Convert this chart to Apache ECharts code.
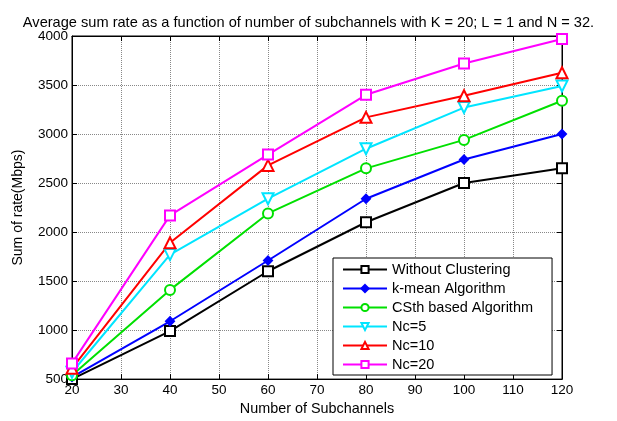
<!DOCTYPE html>
<html>
<head>
<meta charset="utf-8">
<script src="https://cdn.jsdelivr.net/npm/echarts@6/dist/echarts.min.js"></script>
<style>
  html, body { margin: 0; padding: 0; background: #fff; }
  #main { width: 617px; height: 421px; }
</style>
</head>
<body>
<div id="main"></div>
<script>
const subchannels = [20, 40, 60, 80, 100, 120];
const withoutClustering = [500, 990, 1600, 2100, 2500, 2650];
const kMean = [520, 1090, 1710, 2340, 2740, 3000];
const csth = [540, 1410, 2190, 2650, 2940, 3340];
const nc5 = [570, 1770, 2340, 2850, 3270, 3490];
const nc10 = [610, 1890, 2680, 3170, 3390, 3625];
const nc20 = [660, 2170, 2790, 3400, 3720, 3970];

const seriesDefs = [
  { name: 'Without Clustering', data: withoutClustering, color: '#000000', symbol: 'rect', size: 10, hollow: true },
  { name: 'k-mean Algorithm', data: kMean, color: '#0000ff', symbol: 'diamond', size: 8, hollow: false },
  { name: 'CSth based Algorithm', data: csth, color: '#00e000', symbol: 'circle', size: 10, hollow: true },
  { name: 'Nc=5', data: nc5, color: '#00e5ff', symbol: 'triangle', size: 11, hollow: true, rotate: 180 },
  { name: 'Nc=10', data: nc10, color: '#ff0000', symbol: 'triangle', size: 11, hollow: true },
  { name: 'Nc=20', data: nc20, color: '#ff00ff', symbol: 'rect', size: 10, hollow: true }
];

const font = 'Liberation Sans, Arial, sans-serif';
const chart = echarts.init(document.getElementById('main'), null, { renderer: 'canvas' });

const series = seriesDefs.map(s => ({
  name: s.name,
  type: 'line',
  data: s.data.map((v, i) => [subchannels[i], v]),
  symbol: s.symbol,
  symbolSize: s.size,
  symbolRotate: s.rotate || 0,
  showAllSymbol: true,
  lineStyle: { color: s.color, width: 2 },
  itemStyle: {
    color: s.hollow ? '#ffffff' : s.color,
    borderColor: s.color,
    borderWidth: 2
  },
  emphasis: { disabled: true },
  animation: false
}));

chart.setOption({
  animation: false,
  title: {
    text: 'Average sum rate as a function of number of subchannels with K = 20; L = 1 and N = 32.',
    left: 'center',
    top: 10,
    textStyle: { fontFamily: font, fontSize: 14.6, fontWeight: 'normal', color: '#000' }
  },
  grid: {
    left: 72, right: 55, top: 36, bottom: 37,
    show: true, borderColor: '#000', borderWidth: 1
  },
  legend: {
    orient: 'vertical',
    left: 333, top: 258,
    backgroundColor: '#fff',
    borderColor: '#000',
    borderWidth: 1,
    padding: [4, 19, 3, 9],
    itemWidth: 44,
    itemHeight: 9,
    itemGap: 4,
    textStyle: { fontFamily: font, fontSize: 14.5, color: '#000', lineHeight: 13 },
    data: seriesDefs.map(s => s.name)
  },
  xAxis: [{
    type: 'value',
    min: 20, max: 120, interval: 10,
    name: 'Number of Subchannels',
    nameLocation: 'middle',
    nameGap: 21,
    nameTextStyle: { fontFamily: font, fontSize: 14.4, color: '#000' },
    axisLine: { lineStyle: { color: '#000' } },
    axisTick: { inside: true, length: 5, lineStyle: { color: '#000' } },
    axisLabel: { fontFamily: font, fontSize: 13.5, color: '#000', margin: 4, formatter: v => String(v) },
    splitLine: { show: true, lineStyle: { color: '#888', type: 'dotted', width: 1 } }
  }, {
    type: 'value', position: 'top',
    min: 20, max: 120, interval: 10,
    axisLine: { show: true, lineStyle: { color: '#000' } },
    axisTick: { inside: true, length: 5, lineStyle: { color: '#000' } },
    axisLabel: { show: false },
    splitLine: { show: false }
  }],
  yAxis: [{
    type: 'value',
    min: 500, max: 4000, interval: 500,
    name: 'Sum of rate(Mbps)',
    nameLocation: 'middle',
    nameGap: 47,
    nameTextStyle: { fontFamily: font, fontSize: 14, color: '#000' },
    axisLine: { show: true, lineStyle: { color: '#000' } },
    axisTick: { inside: true, length: 5, lineStyle: { color: '#000' } },
    axisLabel: { fontFamily: font, fontSize: 13.5, color: '#000', margin: 4, formatter: v => String(v) },
    splitLine: { show: true, lineStyle: { color: '#888', type: 'dotted', width: 1 } }
  }, {
    type: 'value', position: 'right',
    min: 500, max: 4000, interval: 500,
    axisLine: { show: true, lineStyle: { color: '#000' } },
    axisTick: { inside: true, length: 5, lineStyle: { color: '#000' } },
    axisLabel: { show: false },
    splitLine: { show: false }
  }],
  series: series
});
</script>
</body>
</html>
